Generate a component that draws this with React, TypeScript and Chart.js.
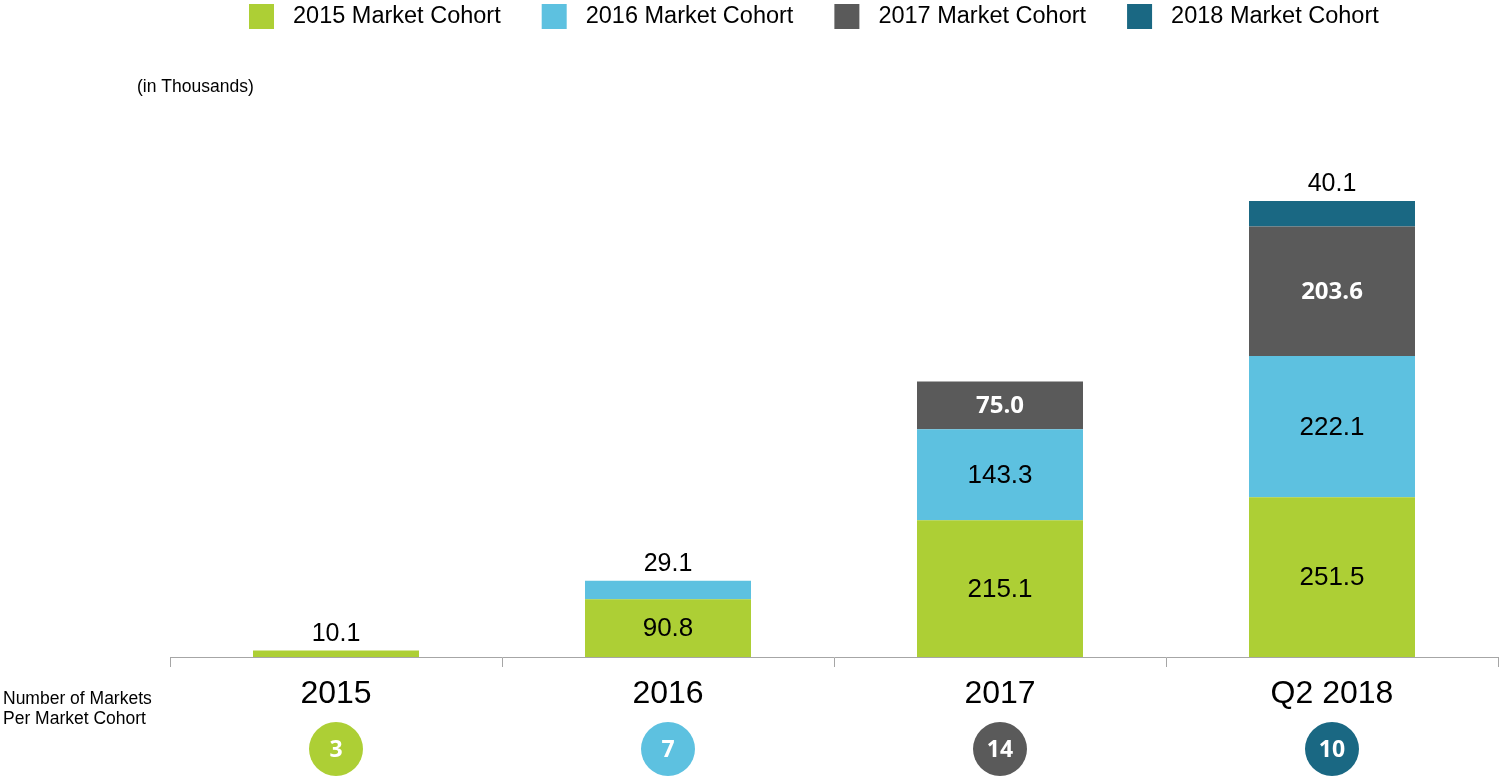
import React, { useEffect, useRef } from "react";
import { Chart, registerables } from "chart.js";

Chart.register(...registerables);

const categories = ["2015", "2016", "2017", "Q2 2018"];
const cohortNames = ["2015 Market Cohort", "2016 Market Cohort", "2017 Market Cohort", "2018 Market Cohort"];
const cohort2015 = [10.1, 90.8, 215.1, 251.5];
const cohort2016 = [null, 29.1, 143.3, 222.1];
const cohort2017 = [null, null, 75.0, 203.6];
const cohort2018 = [null, null, null, 40.1];
const marketsPerCohort = [3, 7, 14, 10];
const unitNote = "(in Thousands)";
const sideNote = ["Number of Markets", "Per Market Cohort"];

const cohortColors = ["#ADCF35", "#5DC1E0", "#5A5A5A", "#1A6883"];
const SANS = "Arial, 'Liberation Sans', sans-serif";
const BOLD = "'Open Sans', 'Noto Sans', sans-serif";

const overlayPlugin = {
  id: "overlay",
  afterDatasetsDraw(chart: any) {
    const ctx = chart.ctx;
    ctx.save();
    chart.data.datasets.forEach((ds: any, i: number) => {
      const meta = chart.getDatasetMeta(i);
      meta.data.forEach((el: any, j: number) => {
        const v = ds.data[j];
        if (v === null || v === undefined) return;
        const h = el.base - el.y;
        ctx.textAlign = "center";
        if (h >= 30) {
          if (i === 2) {
            ctx.fillStyle = "#ffffff";
            ctx.font = `bold 24px ${BOLD}`;
          } else {
            ctx.fillStyle = "#000000";
            ctx.font = `26px ${SANS}`;
          }
          ctx.textBaseline = "middle";
          ctx.fillText(v.toFixed(1), el.x, (el.y + el.base) / 2 + 1);
        } else {
          ctx.fillStyle = "#000000";
          ctx.font = `25px ${SANS}`;
          ctx.textBaseline = "alphabetic";
          ctx.fillText(v.toFixed(1), el.x, el.y - 10);
        }
      });
    });
    ctx.restore();
  },
  afterDraw(chart: any) {
    const ctx = chart.ctx;
    ctx.save();
    // legend
    ctx.font = `23.5px ${SANS}`;
    ctx.textBaseline = "middle";
    ctx.textAlign = "left";
    let x = 249;
    chart.data.datasets.forEach((ds: any) => {
      ctx.fillStyle = ds.backgroundColor;
      ctx.fillRect(x, 4, 25, 25);
      ctx.fillStyle = "#000000";
      ctx.fillText(ds.label, x + 44, 17);
      x += 44 + ctx.measureText(ds.label).width + 41;
    });
    // unit note
    ctx.font = `17.5px ${SANS}`;
    ctx.fillText(unitNote, 137, 87);
    // side note
    ctx.fillText(sideNote[0], 3, 699);
    ctx.fillText(sideNote[1], 3, 719);
    // circles
    const xs = chart.scales.x;
    marketsPerCohort.forEach((n, j) => {
      const cx = xs.getPixelForValue(j);
      const cy = 749;
      ctx.beginPath();
      ctx.arc(cx, cy, 27, 0, Math.PI * 2);
      ctx.fillStyle = cohortColors[j];
      ctx.fill();
      ctx.fillStyle = "#ffffff";
      ctx.font = `bold 23px ${BOLD}`;
      ctx.textAlign = "center";
      ctx.textBaseline = "middle";
      ctx.fillText(String(n), cx, cy + 1);
    });
    ctx.restore();
  },
};

export default function App() {
  const ref = useRef<HTMLCanvasElement>(null);
  useEffect(() => {
    if (!ref.current) return;
    const series = [cohort2015, cohort2016, cohort2017, cohort2018];
    const chart = new Chart(ref.current, {
      type: "bar",
      data: {
        labels: categories,
        datasets: series.map((d, i) => ({
          label: cohortNames[i],
          data: d as any,
          backgroundColor: cohortColors[i],
          borderWidth: 0,
          categoryPercentage: 0.5,
          barPercentage: 1,
        })),
      },
      options: {
        responsive: false,
        animation: false,
        layout: { padding: { left: 170, right: 2, top: 85, bottom: 0 } },
        plugins: { legend: { display: false }, tooltip: { enabled: false } },
        scales: {
          x: {
            stacked: true,
            offset: true,
            afterFit: (s: any) => {
              s.height = 120;
            },
            grid: {
              display: true,
              offset: true,
              drawOnChartArea: false,
              drawTicks: true,
              tickLength: 10,
              color: "#a6a6a6",
            },
            border: { display: true, color: "#a6a6a6", width: 1 },
            ticks: {
              color: "#000000",
              font: { family: SANS, size: 32 },
              padding: 8,
            },
          },
          y: {
            stacked: true,
            display: false,
            min: 0,
            max: 900,
          },
        },
      },
      plugins: [overlayPlugin],
    });
    return () => chart.destroy();
  }, []);
  return (
    <div style={{ position: "fixed", left: 0, top: 0, width: 1500, height: 777, background: "#fff" }}>
      <canvas ref={ref} width={1500} height={777} style={{ display: "block" }} />
    </div>
  );
}
